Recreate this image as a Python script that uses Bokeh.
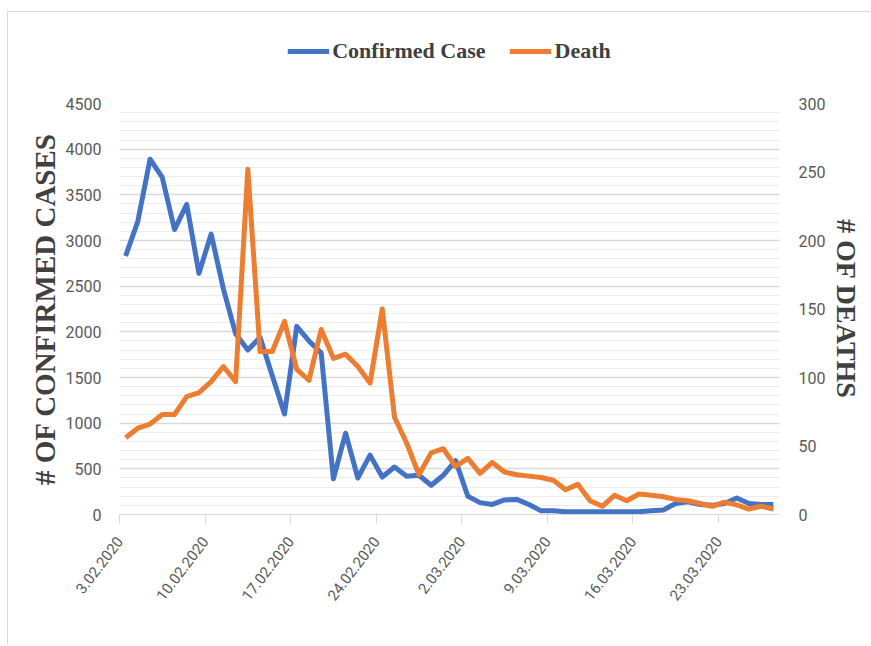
from bokeh.plotting import figure
from bokeh.layouts import column
from bokeh.models import (Range1d, LinearAxis, FixedTicker, Legend, LegendItem)
from bokeh.embed import file_html
from bokeh.resources import INLINE

# ---- data ----
tick_labels = ["3.02.2020", "10.02.2020", "17.02.2020", "24.02.2020",
               "2.03.2020", "9.03.2020", "16.03.2020", "23.03.2020"]
tick_days = [0, 7, 14, 21, 28, 35, 42, 49]

confirmed = [2830, 3210, 3890, 3690, 3120, 3395, 2640, 3070, 2470, 1980,
             1800, 1940, 1520, 1100, 2060, 1900, 1770, 390, 890, 400,
             650, 410, 520, 420, 430, 320, 430, 590, 200, 130,
             110, 160, 165, 110, 40, 40, 30, 30, 30, 30,
             30, 30, 30, 40, 50, 120, 140, 110, 100, 120,
             180, 120, 110, 110]
deaths = [56, 63, 66, 73, 73, 86, 89, 97, 108, 97,
          252, 119, 119, 141, 106, 98, 135, 114, 117, 108,
          96, 150, 71, 52, 29, 45, 48, 35, 41, 30,
          38, 31, 29, 28, 27, 25, 18, 22, 10, 6,
          14, 10, 15, 14, 13, 11, 10, 8, 6, 9,
          7, 4, 6, 4]
days = [i + 0.5 for i in range(len(confirmed))]

left_ticks = [0, 500, 1000, 1500, 2000, 2500, 3000, 3500, 4000, 4500]
left_minor = list(range(0, 4501, 100))
right_ticks = [0, 50, 100, 150, 200, 250, 300]
series_names = ["Confirmed Case", "Death"]

BLUE = "#4472C4"
ORANGE = "#ED7D31"
TICK_FONT = "Roboto"
TITLE_FONT = "Liberation Serif"

W = 862
LEG_H = 72
MB_L = 111
MB_R = 91

# ---- legend strip (its lines lie outside its view; only the legend shows) ----
lf = figure(width=W, height=LEG_H, output_backend="svg", toolbar_location=None,
            x_range=Range1d(-2, -1), y_range=Range1d(0, 1),
            min_border_left=MB_L, min_border_right=MB_R, min_border_top=6,
            min_border_bottom=0)
lf.axis.visible = False
lf.grid.visible = False
lf.outline_line_color = None
lf.border_fill_color = "white"
lr1 = lf.line(days, confirmed, line_color=BLUE, line_width=5)
lr2 = lf.line(days, deaths, line_color=ORANGE, line_width=5)
legend = Legend(items=[LegendItem(label=series_names[0], renderers=[lr1]),
                       LegendItem(label=series_names[1], renderers=[lr2])],
                orientation="horizontal", location="center",
                padding=0, margin=0, spacing=24, glyph_width=42,
                label_standoff=3, border_line_color=None,
                background_fill_alpha=0,
                label_text_font=TITLE_FONT, label_text_font_style="bold",
                label_text_font_size="22px", label_text_color="#404040")
lf.add_layout(legend, "center")

# ---- main chart ----
p = figure(width=W, height=560, output_backend="svg", toolbar_location=None,
           x_range=Range1d(0, 54), y_range=Range1d(0, 4500),
           min_border_left=MB_L, min_border_right=MB_R, min_border_top=19,
           min_border_bottom=130)
p.outline_line_color = None
p.background_fill_color = "white"
p.border_fill_color = "white"

p.extra_y_ranges = {"deaths": Range1d(0, 300)}

# x axis
p.xaxis.ticker = FixedTicker(ticks=tick_days)
p.xaxis.major_label_overrides = {d: l for d, l in zip(tick_days, tick_labels)}
p.xaxis.major_label_orientation = 0.92
p.xaxis.axis_line_color = "#d9d9d9"
p.xaxis.major_tick_line_color = "#d9d9d9"
p.xaxis.major_tick_out = 9
p.xaxis.major_tick_in = 0
p.xaxis.minor_tick_line_color = None
p.xaxis.major_label_text_font = TICK_FONT
p.xaxis.major_label_text_font_size = "15px"
p.xaxis.major_label_text_color = "#595959"
p.xaxis.major_label_standoff = 15
p.xgrid.grid_line_color = None

# left axis
p.yaxis.ticker = FixedTicker(ticks=left_ticks, minor_ticks=left_minor)
p.yaxis.axis_line_color = None
p.yaxis.major_tick_line_color = None
p.yaxis.minor_tick_line_color = None
p.yaxis.major_label_text_font = TICK_FONT
p.yaxis.major_label_text_font_size = "16px"
p.yaxis.major_label_text_color = "#595959"
p.yaxis.major_label_standoff = 12
p.yaxis.axis_label = "# OF CONFIRMED CASES"
p.yaxis.axis_label_text_font = TITLE_FONT
p.yaxis.axis_label_text_font_style = "bold"
p.yaxis.axis_label_text_font_size = "29px"
p.yaxis.axis_label_text_color = "#404040"
p.yaxis.axis_label_standoff = 2
p.ygrid.grid_line_color = "#d9d9d9"
p.ygrid.grid_line_width = 1.5
p.ygrid.minor_grid_line_color = "#ececec"
p.ygrid.minor_grid_line_width = 1.2

# right axis
ra = LinearAxis(y_range_name="deaths", ticker=FixedTicker(ticks=right_ticks))
ra.axis_line_color = None
ra.major_tick_line_color = None
ra.minor_tick_line_color = None
ra.major_label_text_font = TICK_FONT
ra.major_label_text_font_size = "16px"
ra.major_label_text_color = "#595959"
ra.major_label_standoff = 13
ra.axis_label = "# OF DEATHS"
ra.axis_label_text_font = TITLE_FONT
ra.axis_label_text_font_style = "bold"
ra.axis_label_text_font_size = "28px"
ra.axis_label_text_color = "#404040"
ra.axis_label_standoff = 3
p.add_layout(ra, "right")

p.line(days, confirmed, line_color=BLUE, line_width=5, line_join="round")
p.line(days, deaths, line_color=ORANGE, line_width=5, line_join="round",
       y_range_name="deaths")

layout = column(lf, p, spacing=0, margin=(11, 0, 0, 7),
                styles={"border-left": "1px solid #d9d9d9",
                        "border-top": "1px solid #d9d9d9"})
open("out.html", "w").write(file_html(layout, INLINE))
